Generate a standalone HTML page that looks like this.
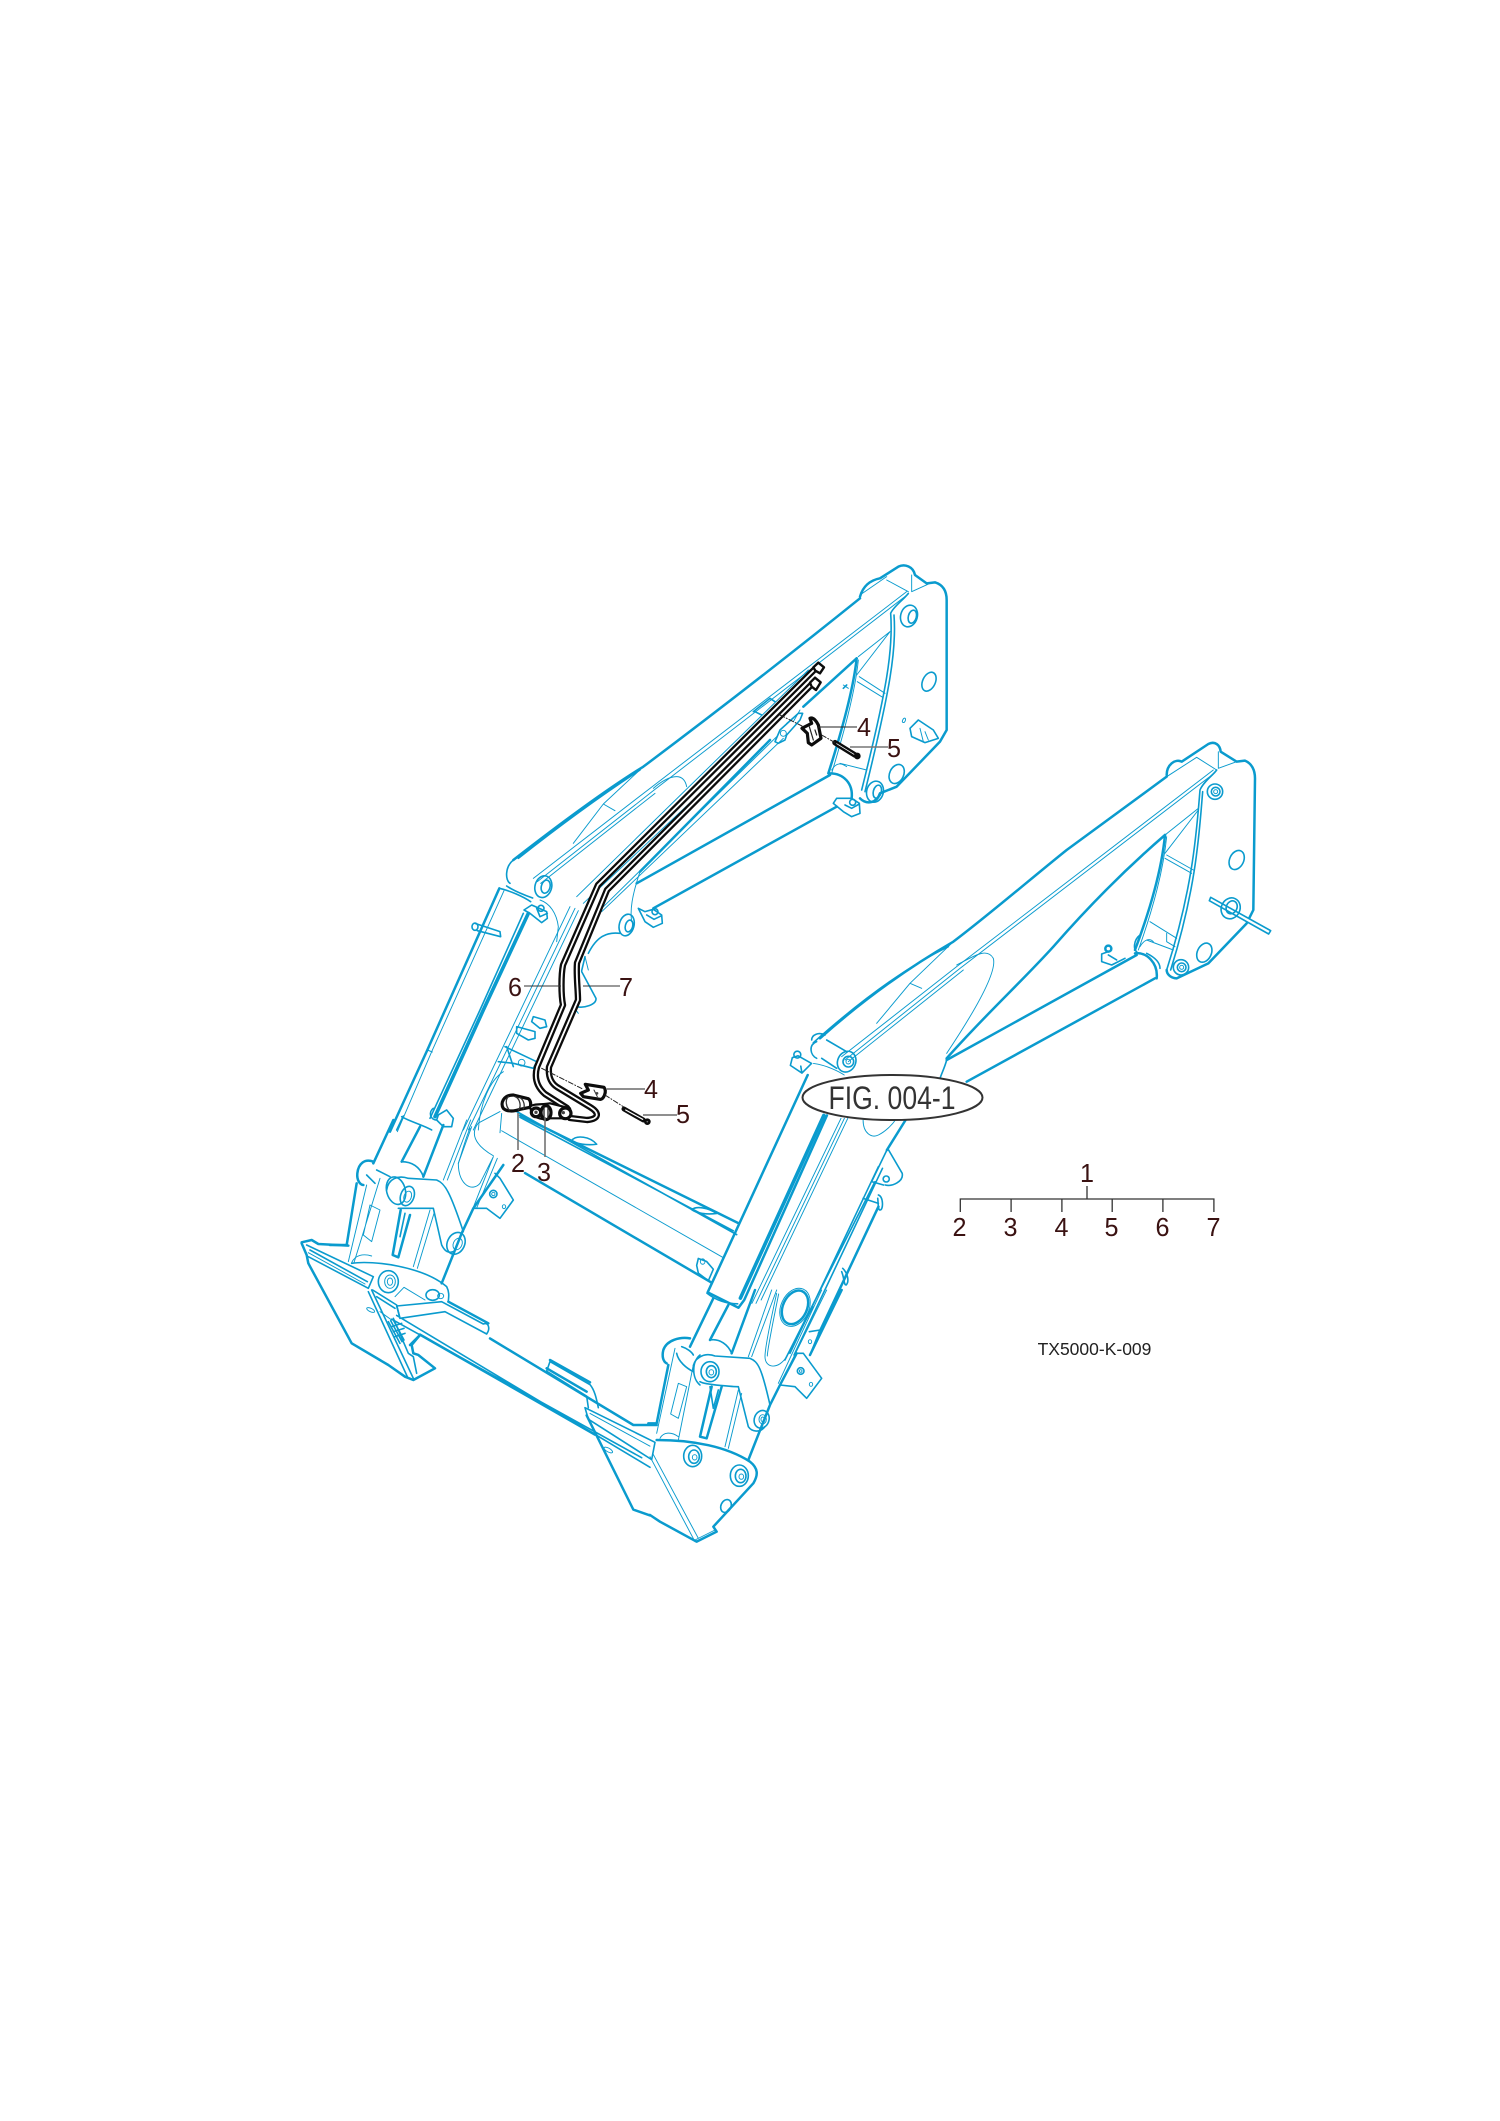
<!DOCTYPE html>
<html><head><meta charset="utf-8"><style>
html,body{margin:0;padding:0;background:#fff}
svg{display:block}
path,line,ellipse,circle{vector-effect:non-scaling-stroke}
.b *{fill:none;stroke:#0a9bce;stroke-linejoin:round;stroke-linecap:round}
.b .t{stroke-width:2.5}
.b .m{stroke-width:1.6}
.b .f{stroke-width:.95}
.b .x{stroke-width:3.6}
.b .w{fill:#fff}
.k *{stroke-linejoin:round;stroke-linecap:round}
text{font-family:"Liberation Sans",sans-serif;fill:#3a1212;font-size:26px;text-anchor:middle}
</style></head><body>
<svg xmlns="http://www.w3.org/2000/svg" width="1500" height="2121" viewBox="0 0 1500 2121">
<rect width="1500" height="2121" fill="#fff"/>

<g class="b">
<!-- Right arm -->
<g transform="translate(800,720) scale(.33333)">
<path class="t" d="M60,955C200,830 330,740 460,665C560,590 700,470 800,390L1100,170"/>
<path class="m" d="M40,968C150,870 300,750 445,680"/>
<path class="t" d="M1100,165C1100,135 1125,115 1145,125L1225,72C1245,62 1260,75 1262,95L1310,125L1335,122C1355,130 1365,150 1365,175L1360,570L1340,610L1225,730L1130,775C1110,775 1100,760 1100,750"/>
<path class="f" d="M125,1010L470,740L1240,150M135,1020L480,745L1245,158M145,1025L490,750"/>
<path class="f" d="M470,735C520,710 560,680 580,715C590,750 540,850 440,1000"/>
<path class="f" d="M460,665L330,790L230,910M330,790L365,805"/>
<path class="t" d="M1095,345C950,470 830,600 760,680C660,790 560,880 440,1015"/>
<path class="t" d="M1095,345C1085,450 1050,570 1005,690"/>
<path class="f" d="M1100,350C1090,450 1058,570 1015,690"/>
<path class="m" d="M1200,210C1190,330 1180,500 1100,750M1208,215C1198,335 1190,500 1112,750M1200,210C1210,185 1240,165 1250,150"/>
<path class="f" d="M1095,345L1195,265M1095,400L1195,270M1100,405L1180,450M1095,415L1175,460"/>
<path class="f" d="M1100,170L1190,112L1250,150M1255,95L1255,145L1310,125M1050,605L1130,655M1040,660L1120,690M1020,680C1035,655 1050,655 1060,665M1100,640L1100,665L1125,680"/>
<path class="t" d="M440,1020L1010,705M500,1085L1065,775"/>
<path class="m" d="M440,1020C435,1040 425,1060 420,1075"/>
<path class="t" d="M1005,700C1040,695 1075,730 1070,775"/>
<path class="m" d="M1020,645C1000,660 1000,690 1010,695M1040,700C1060,710 1080,725 1080,745"/>
<path class="m" d="M975,715L935,735L905,725L905,702L925,695M925,705L950,720"/>
<circle class="t" cx="925" cy="686" r="9"/>
<path class="m w" d="M1232,532L1412,632L1406,642L1228,542Z"/>
<ellipse class="m" cx="1292" cy="565" rx="28" ry="32" transform="rotate(25 1292 565)"/>
<ellipse class="m" cx="1295" cy="562" rx="16" ry="20" transform="rotate(25 1295 562)"/>
<ellipse class="m" cx="1310" cy="420" rx="21" ry="30" transform="rotate(25 1310 420)"/>
<ellipse class="m" cx="1213" cy="698" rx="21" ry="30" transform="rotate(25 1213 698)"/>
<circle class="m" cx="1245" cy="215" r="23"/><circle class="m" cx="1247" cy="215" r="13"/><circle class="f" cx="1247" cy="215" r="6"/>
<circle class="m" cx="1143" cy="742" r="23"/><circle class="m" cx="1145" cy="742" r="13"/><circle class="f" cx="1145" cy="742" r="6"/>
<path class="m" d="M50,965C25,975 30,1005 50,1015"/>
<path class="m" d="M35,960C35,945 55,935 75,945"/>
<path class="m" d="M80,960L140,995M65,1015L110,1045"/>
<ellipse class="m" cx="140" cy="1025" rx="27" ry="32" transform="rotate(25 140 1025)"/>
<circle class="m" cx="145" cy="1025" r="16"/><circle class="f" cx="145" cy="1025" r="7"/>
</g>

<!-- Left arm -->
<g transform="translate(450,550) scale(.33333)">
<path class="t" d="M190,930C280,860 450,730 580,650C700,560 950,370 1230,145"/>
<path class="m" d="M205,925C300,850 440,745 570,660"/>
<path class="t" d="M1230,140C1240,105 1265,90 1290,85L1345,50C1365,40 1390,50 1395,75L1430,100L1455,97C1480,105 1490,125 1490,150L1490,540L1470,575L1340,710L1290,730C1280,760 1250,765 1230,745"/>
<path class="m" d="M190,930C165,950 165,990 180,1000"/>
<path class="f" d="M250,985L600,715L1370,125M262,995L610,722L1375,132M272,1000L615,730"/>
<path class="f" d="M610,715C650,680 700,660 710,710"/>
<path class="f" d="M580,650L460,762L370,880M460,762L495,782"/>
<path class="f" d="M1310,80L1230,135M1310,90L1375,125M1385,75L1385,125L1440,100"/>
<path class="t" d="M1220,325L1060,470M960,570L570,965"/>
<path class="t" d="M1220,325C1210,420 1170,560 1135,670"/>
<path class="f" d="M1225,330C1215,430 1178,560 1145,670"/>
<path class="m" d="M1322,190C1330,300 1310,420 1235,720M1332,195C1340,300 1320,420 1245,725M1322,190C1330,170 1360,150 1375,130"/>
<path class="f" d="M1220,375L1320,245M1225,320L1320,245M1228,380L1305,430M1222,395L1298,442M1180,405L1195,415"/>
<path class="f" d="M1170,640L1250,660M1145,660C1160,635 1175,640 1190,650"/>
<path class="t" d="M560,1000L1140,675M610,1075L1160,770"/>
<path class="t" d="M1140,670C1180,670 1210,700 1205,745"/>
<path class="m" d="M1160,745L1150,760L1180,785L1205,800L1230,790L1228,760L1205,745Z M1185,765L1205,775L1228,762"/>
<circle class="m" cx="1208" cy="757" r="9"/>
<path class="m" d="M565,1075L585,1115L610,1132L637,1120L635,1095L610,1078L585,1085ZM590,1095L612,1108L635,1097"/>
<circle class="m" cx="615" cy="1085" r="9"/>
<ellipse class="m" cx="1437" cy="395" rx="19" ry="30" transform="rotate(25 1437 395)"/>
<ellipse class="m" cx="1340" cy="672" rx="21" ry="30" transform="rotate(25 1340 672)"/>
<ellipse class="m" cx="1377" cy="198" rx="25" ry="33" transform="rotate(15 1377 198)"/>
<ellipse class="m" cx="1387" cy="200" rx="12" ry="20" transform="rotate(15 1387 200)"/>
<ellipse class="m" cx="1275" cy="725" rx="25" ry="32" transform="rotate(15 1275 725)"/>
<ellipse class="m" cx="1282" cy="725" rx="12" ry="20" transform="rotate(15 1282 725)"/>
<ellipse class="m" cx="280" cy="1010" rx="25" ry="33" transform="rotate(15 280 1010)"/>
<ellipse class="m" cx="287" cy="1010" rx="13" ry="20" transform="rotate(15 287 1010)"/>
<ellipse class="m" cx="530" cy="1125" rx="22" ry="33" transform="rotate(15 530 1125)"/>
<ellipse class="m" cx="537" cy="1128" rx="11" ry="18" transform="rotate(15 537 1128)"/>
<path class="m" d="M1385,560L1380,535L1405,510L1450,540L1465,565L1425,578Z"/>
<path class="f" d="M1410,535L1420,575M1425,545L1435,570"/><ellipse class="f" cx="1362" cy="511" rx="4" ry="7" transform="rotate(25 1362 511)"/>
<path class="m" d="M910,485L960,445L975,455M915,485L935,495M1190,405L1180,415"/>
<path class="m" d="M975,575L990,540L1045,490L1058,490L1050,510L1010,555L1005,570L985,580Z"/>
<circle class="f" cx="1000" cy="550" r="9"/>
<path class="f" d="M1010,520L1045,490M1030,515L1050,480"/>
<path class="f" d="M380,1040L1075,360M400,1060L1090,410M445,1085L980,560M455,1085L1000,565"/>
<path class="f" d="M570,965C545,1040 540,1080 545,1115"/>
<path class="m" d="M415,1210C440,1160 470,1145 510,1150"/>
<path class="m" d="M395,1265L438,1345C440,1365 400,1375 380,1370"/>
<path class="m" d="M405,1220L395,1262"/>
</g>

<!-- Left cylinder -->
<g transform="translate(340,870) scale(.33333)">
<path class="t" d="M478,55L262,540L150,785"/>
<path class="f" d="M492,62L275,545L172,785M262,540L277,546"/>
<path class="m" d="M478,55C510,62 550,80 572,95M500,48C520,62 560,78 578,84"/>
<path class="x" d="M565,130L430,420L285,740"/>
<path class="m" d="M550,130L420,420L270,745"/>
<ellipse class="m" cx="405" cy="170" rx="9" ry="11"/>
<path class="m" d="M405,160L480,185L482,200L412,182"/>
<path class="m" d="M552,120L575,105L620,125L622,145L605,158L570,130ZM590,115L600,140L622,130"/>
<circle class="m" cx="603" cy="115" r="9"/>
<path class="f" d="M600,90C630,100 650,130 655,170L650,215"/>
<path class="f" d="M690,110L370,780M705,115L385,780M715,122L400,780"/>
<path class="m" d="M185,740C210,755 250,765 275,780M170,780L190,738"/>
<path class="m" d="M295,735L320,720L340,745L335,770L310,770L290,750ZM280,715C265,725 270,750 290,750"/>
<path class="m" d="M580,440L615,450L620,470L600,475L575,455ZM530,470L585,485L585,505L565,510L530,490ZM495,530L590,575L580,595L520,580L475,575M500,530L520,590"/>
<circle class="f" cx="545" cy="578" r="10"/>
<path class="f" d="M490,605C450,630 420,700 415,780"/>
<path class="f" d="M735,260L745,300M700,410L715,430"/>
</g>

<!-- lower-left mid / beam -->
<g transform="translate(280,1000) scale(.33333,.38462)">
<path class="t" d="M720,300L1375,580M735,450L1295,735"/>
<path class="m" d="M700,285L1370,610M720,305L1360,600"/>
<path class="f" d="M665,340L1330,670M665,295L660,345"/>
<path class="f" d="M660,290L595,320C572,345 580,375 640,405"/>
<path class="m" d="M875,365C890,350 930,355 950,375C920,378 890,375 875,365ZM1235,545C1250,535 1285,540 1310,555C1280,558 1250,555 1235,545Z"/>
<path class="m" d="M1250,690L1255,672L1280,680L1300,700L1285,730L1255,710Z"/>
<circle class="f" cx="1268" cy="680" r="7"/>
<path class="t" d="M420,870L945,1130"/>
<path class="t" d="M630,880L1060,1105L1130,1105"/>
<path class="m" d="M350,820L1110,1215M335,830L1085,1190"/>
<path class="m w" d="M915,1060L1125,1150L1115,1195L925,1090Z"/>
<path class="f" d="M930,1075L1110,1160"/>
<path class="t" d="M920,1080L1060,1325L1110,1340"/>
<ellipse class="f" cx="985" cy="1170" rx="14" ry="5" transform="rotate(25 985 1170)"/>
<path class="m" d="M810,940L930,1000C945,1015 950,1040 955,1060M800,965L920,1030L925,1060M810,940L800,965"/>
</g>

<!-- Left link -->
<g transform="translate(330,1120) scale(.33333)">
<path class="t" d="M130,125C105,115 85,130 82,160C80,180 90,195 100,195"/>
<path class="t" d="M80,190L50,375L0,375"/>
<path class="f" d="M110,195L55,425M150,175L72,428M120,255L150,270L125,365L100,345Z"/>
<path class="t" d="M190,0L130,130M270,20L215,125M340,15L280,170"/>
<path class="m" d="M215,125C245,125 270,140 280,170"/>
<path class="m" d="M140,150L180,170M110,165L135,190"/>
<path class="m" d="M170,210C175,175 205,165 235,175L320,180C345,190 360,215 400,335"/>
<path class="m" d="M205,265L310,265L335,375C345,395 355,400 370,395"/>
<ellipse class="m" cx="198" cy="212" rx="28" ry="42" transform="rotate(-15 198 212)"/>
<ellipse class="m" cx="232" cy="228" rx="20" ry="30" transform="rotate(20 232 228)"/>
<ellipse class="f" cx="233" cy="230" rx="11" ry="17" transform="rotate(20 233 230)"/>
<ellipse class="m" cx="378" cy="370" rx="26" ry="34" transform="rotate(25 378 370)"/>
<ellipse class="f" cx="383" cy="372" rx="13" ry="18" transform="rotate(25 383 372)"/>
<path class="t" d="M212,270L188,405L205,412L240,285"/>
<path class="m" d="M225,280L210,350"/>
<path class="f" d="M300,270L250,440M312,280L262,445"/>
<path class="t" d="M520,135L430,265L395,340L335,490"/>
<path class="m" d="M430,265L470,265L510,295L550,240L510,175L495,160"/>
<circle class="m" cx="490" cy="222" r="11"/><circle class="f" cx="490" cy="222" r="5"/>
<ellipse class="f" cx="522" cy="260" rx="5" ry="6"/>
<path class="f" d="M410,0L340,180M422,0L352,180M425,20L385,130C385,200 430,215 450,190L490,110M490,110L430,262M502,115L440,264"/>
<path class="f" d="M385,130C395,100 405,60 420,25"/>
</g>

<!-- lower-left attachment -->
<g transform="translate(280,1180) scale(.33333)">
<path class="t" d="M65,187L95,180L115,192L205,197"/>
<path class="t" d="M65,190L80,225L85,250L215,490L325,555L375,590L400,600L465,565L415,525L400,520L395,495L420,465"/>
<path class="m" d="M80,195L280,290L265,325L85,230M90,210L262,305"/>
<path class="f" d="M85,218L255,312"/>
<path class="m" d="M265,335L382,590M275,330L400,595"/>
<path class="m" d="M340,415L385,520L400,530L410,580"/>
<path class="m" d="M325,425L360,490M332,422L366,485M340,420L372,480M335,440L365,430M340,455L372,445M345,470L375,460"/>
<path class="f" d="M300,395L335,420"/>
<ellipse class="f" cx="272" cy="390" rx="13" ry="5" transform="rotate(25 272 390)"/>
<path class="m" d="M215,250C280,240 430,260 500,320C510,340 505,355 505,365"/>
<path class="f" d="M215,248C225,225 250,220 275,228"/>
<path class="t" d="M505,365L625,430"/>
<path class="m w" d="M350,378L485,365L610,432C625,425 632,445 620,462L495,395L360,415Z"/>
<path class="m" d="M278,330L350,375L360,415M290,350L345,385"/>
<path class="f" d="M345,350L372,322L435,360"/>
<ellipse class="m" cx="325" cy="305" rx="30" ry="33"/><ellipse class="f" cx="330" cy="305" rx="16" ry="20"/><ellipse class="f" cx="330" cy="305" rx="8" ry="11"/>
<ellipse class="m" cx="458" cy="345" rx="20" ry="16"/><ellipse class="f" cx="482" cy="348" rx="9" ry="8"/>
<path class="t" d="M420,465L390,495"/>
<path class="t" d="M810,540L930,607M800,565L920,635"/>
</g>

<!-- Right cylinder -->
<g transform="translate(700,1000) scale(.38462)">
<path class="t" d="M280,195L20,760L100,800L115,780L330,300"/>
<path class="x" d="M322,300L105,775"/>
<path class="m" d="M18,762C40,780 70,790 98,790"/>
<path class="m" d="M290,165L265,190L235,170L240,150L255,145L290,165M265,190L262,172"/>
<circle class="m" cx="253" cy="142" r="9"/>
<path class="f" d="M295,165C330,170 360,185 375,195"/>
</g>

<!-- Right arm side detail -->
<g transform="translate(756,1100) scale(.34,.33333)">
<path class="f" d="M270,55L15,600M260,55L0,610M250,55L-12,610"/>
<path class="f" d="M315,60C315,100 340,115 360,105C380,95 400,75 410,60"/>
<path class="t" d="M440,60L385,150"/>
<path class="m" d="M390,150L430,220C435,245 400,260 380,255M385,150L340,245L375,255M315,295L360,310"/>
<circle class="m" cx="383" cy="237" r="9"/>
<path class="t" d="M360,320L185,700"/>
<path class="m" d="M360,200L100,760M372,205L112,765M350,245L85,780"/>
<path class="m" d="M360,285C375,290 375,330 365,330C358,330 360,310 358,295M255,505C270,520 275,545 265,555C258,555 260,535 252,515"/>
</g>

<!-- Right link and bottom plate -->
<g transform="translate(650,1290) scale(.33333)">
<ellipse class="t" cx="435" cy="52" rx="36" ry="53" transform="rotate(25 435 52)"/>
<ellipse class="f" cx="435" cy="52" rx="42" ry="60" transform="rotate(25 435 52)"/>
<path class="f" d="M380,10C360,100 345,180 345,200C345,235 385,240 410,200L490,50"/>
<path class="f" d="M386,12C368,100 352,180 352,198"/>
<path class="f" d="M380,0L305,200M365,0L295,200M530,0L390,285M515,0L385,280"/>
<path class="t" d="M190,25L120,170M235,45L180,150M315,0L245,190"/>
<path class="m" d="M180,150C210,145 235,165 245,190"/>
<path class="t" d="M120,145C90,140 50,150 40,180C35,200 40,215 50,220"/>
<path class="t" d="M55,225L20,400L-5,400"/>
<path class="f" d="M75,175L20,430M130,225L85,450M85,280L110,290L85,385L62,372Z"/>
<path class="m" d="M130,240C125,205 165,185 195,198L300,205C325,215 335,235 360,345"/>
<path class="m" d="M150,275C165,285 260,290 265,290L295,410C305,425 330,430 345,410"/>
<path class="m" d="M150,195C125,215 125,265 150,285M80,190C85,215 110,235 130,245M95,170C110,175 125,185 130,195"/>
<ellipse class="m" cx="180" cy="245" rx="27" ry="30"/><ellipse class="m" cx="184" cy="245" rx="15" ry="18"/><ellipse class="f" cx="184" cy="247" rx="7" ry="8"/>
<ellipse class="m" cx="335" cy="388" rx="22" ry="27" transform="rotate(20 335 388)"/><ellipse class="f" cx="338" cy="388" rx="11" ry="14"/><ellipse class="f" cx="338" cy="388" rx="5" ry="7"/>
<path class="t" d="M185,290L150,440L170,445L215,290"/>
<path class="m" d="M180,290L190,355L205,300"/>
<path class="f" d="M265,300L225,470M275,310L235,475"/>
<path class="t" d="M575,0L480,195M360,345L390,285L440,190M360,345L295,510"/>
<path class="m" d="M390,285L435,290L470,325L515,265L460,190L440,190M478,125L510,120L480,195"/>
<circle class="m" cx="452" cy="243" r="10"/><circle class="f" cx="452" cy="243" r="4"/>
<ellipse class="f" cx="483" cy="283" rx="5" ry="6"/><ellipse class="f" cx="480" cy="155" rx="5" ry="6"/>
<path class="t" d="M20,450C130,450 230,470 300,515C325,535 325,555 310,580L190,710L200,725L140,755L30,695L0,675"/>
<path class="f" d="M0,500L135,755M8,490L145,745M135,750L195,720"/>
<path class="f" d="M30,445C40,425 65,425 85,440"/>
<ellipse class="m" cx="128" cy="498" rx="27" ry="32"/><ellipse class="m" cx="132" cy="500" rx="16" ry="20"/><ellipse class="f" cx="134" cy="502" rx="7" ry="8"/>
<ellipse class="m" cx="268" cy="557" rx="27" ry="32"/><ellipse class="m" cx="272" cy="558" rx="16" ry="20"/><ellipse class="f" cx="274" cy="560" rx="7" ry="8"/>
<ellipse class="m" cx="228" cy="648" rx="15" ry="20" transform="rotate(25 228 648)"/>
</g>
</g>

<!-- Black tubes & parts -->
<g class="k">
<g fill="none" stroke="#0c0c0c" stroke-width="6.4">
<path d="M816,668L598,885L563,965C561,975 561,995 563,1005L537,1067C534,1078 537,1087 545,1094L567,1108"/>
<path d="M811,685L607,890L577,963C576,975 578,990 578,1000L549,1067C548,1077 551,1083 557,1087L590,1107C600,1113 599,1119 587,1120L570,1118"/>
</g>
<g fill="none" stroke="#fff" stroke-width="1.8">
<path d="M816,668L598,885L563,965C561,975 561,995 563,1005L537,1067C534,1078 537,1087 545,1094L567,1108"/>
<path d="M811,685L607,890L577,963C576,975 578,990 578,1000L549,1067C548,1077 551,1083 557,1087L590,1107C600,1113 599,1119 587,1120L570,1118"/>
</g>

<!-- tube ends and upper clip -->
<g transform="translate(450,550) scale(.33333)">
<path d="M1090,352L1105,338L1122,352L1110,370L1096,362Z" fill="#fff" stroke="#0c0c0c" stroke-width="2.4"/>
<path d="M1080,398L1095,383L1112,397L1098,420L1085,410Z" fill="#fff" stroke="#0c0c0c" stroke-width="2.4"/>
<path d="M1080,505C1090,500 1100,515 1105,525L1113,565L1085,585L1075,578L1072,550L1056,535L1075,525L1085,520Z" fill="#fff" stroke="#0c0c0c" stroke-width="3.2"/>
<path d="M1078,530L1090,570M1095,540L1100,555" stroke="#222" stroke-width="1.2" fill="none"/>
<path d="M1155,578L1215,615" stroke="#0c0c0c" stroke-width="5.5" fill="none"/>
<path d="M1160,581L1212,613" stroke="#fff" stroke-width=".8" fill="none"/>
<circle cx="1222" cy="618" r="10" fill="#0c0c0c"/>
<path d="M990,495L1056,528M1115,555L1155,578" stroke="#222" stroke-width="1" stroke-dasharray="5 2 1 2" fill="none"/>
</g>

<!-- lower black parts -->
<g transform="translate(470,1050) scale(.33333)">
<path d="M130,135C100,135 90,160 100,175C110,185 130,185 150,178L180,172C185,160 180,145 170,145Z" fill="#fff" stroke="#0c0c0c" stroke-width="3.2"/>
<path d="M135,140C150,145 155,170 145,180M150,143C163,150 165,170 160,176M115,140C105,150 108,170 118,180" fill="none" stroke="#333" stroke-width="1.3"/>
<path d="M180,170C190,160 215,165 240,160L300,175C305,190 295,205 285,205L240,205C225,212 195,205 185,190Z" fill="#fff" stroke="#0c0c0c" stroke-width="2.2"/>
<ellipse cx="198" cy="187" rx="14" ry="13" fill="#fff" stroke="#0c0c0c" stroke-width="3.2"/>
<circle cx="198" cy="187" r="5" fill="#444"/>
<ellipse cx="228" cy="188" rx="15" ry="21" fill="#fff" stroke="#0c0c0c" stroke-width="3.2"/>
<path d="M222,172L222,205M234,172L234,205" stroke="#222" stroke-width="1.3" fill="none"/>
<ellipse cx="286" cy="190" rx="17" ry="16" fill="#fff" stroke="#0c0c0c" stroke-width="3.2"/>
<circle cx="280" cy="188" r="5" fill="#444"/>
<path d="M346,103L402,112C412,125 400,150 390,148L340,140L332,130L355,120Z" fill="#fff" stroke="#0c0c0c" stroke-width="3.2"/>
<path d="M372,120L382,140" stroke="#333" stroke-width="1"/>
<circle cx="381" cy="130" r="4" fill="#444"/>
<path d="M462,177L520,210" stroke="#0c0c0c" stroke-width="5" fill="none"/>
<path d="M467,180L518,208" stroke="#fff" stroke-width="1.2" fill="none"/>
<circle cx="532" cy="215" r="10" fill="#0c0c0c"/><circle cx="532" cy="215" r="2.5" fill="#777"/>
<path d="M215,55L340,118M405,135L460,170" stroke="#222" stroke-width="1" stroke-dasharray="5 2 1 2" fill="none"/>
</g>
</g>

<!-- leaders -->
<g fill="none" stroke-width="1.1">
<path d="M607,1089H645M643,1115H677" stroke="#6a6a6a" stroke-width="1.5"/>
<path d="M518,1113V1150M545,1117V1157" stroke="#6a6a6a" stroke-width="1.5"/>
<path d="M818,727H857" stroke="#222"/>
<path d="M850,747H888" stroke="#777" stroke-width="1.5"/>
<path d="M524,986H561M583,986H620" stroke="#333"/>
<path d="M960.3,1212V1199H1213.9V1212M1011.1,1199V1212M1061.9,1199V1212M1112.2,1199V1212M1162.9,1199V1212M1087,1186V1199" stroke="#333" stroke-width="1.3"/>
</g>

<!-- labels -->
<g>
<text x="864" y="736" textLength="14" lengthAdjust="spacingAndGlyphs">4</text>
<text x="894" y="757" textLength="14" lengthAdjust="spacingAndGlyphs">5</text>
<text x="515" y="996" textLength="14" lengthAdjust="spacingAndGlyphs">6</text>
<text x="626" y="996" textLength="14" lengthAdjust="spacingAndGlyphs">7</text>
<text x="651" y="1098" textLength="14" lengthAdjust="spacingAndGlyphs">4</text>
<text x="683" y="1123" textLength="14" lengthAdjust="spacingAndGlyphs">5</text>
<text x="518" y="1172" textLength="14" lengthAdjust="spacingAndGlyphs">2</text>
<text x="544" y="1181" textLength="14" lengthAdjust="spacingAndGlyphs">3</text>
<text x="1087" y="1182" textLength="14" lengthAdjust="spacingAndGlyphs">1</text>
<text x="959.5" y="1236" textLength="14" lengthAdjust="spacingAndGlyphs">2</text>
<text x="1010.5" y="1236" textLength="14" lengthAdjust="spacingAndGlyphs">3</text>
<text x="1061.5" y="1236" textLength="14" lengthAdjust="spacingAndGlyphs">4</text>
<text x="1111.5" y="1236" textLength="14" lengthAdjust="spacingAndGlyphs">5</text>
<text x="1162.5" y="1236" textLength="14" lengthAdjust="spacingAndGlyphs">6</text>
<text x="1213.5" y="1236" textLength="14" lengthAdjust="spacingAndGlyphs">7</text>
</g>
<text x="1094.5" y="1355" style="font-size:17.5px;fill:#222">TX5000-K-009</text>

<ellipse cx="892.5" cy="1097.5" rx="90" ry="22.5" fill="#fff" stroke="#333" stroke-width="2"/>
<text x="892" y="1109" textLength="127" lengthAdjust="spacingAndGlyphs" style="font-size:32px;fill:#333">FIG. 004-1</text>
</svg>
</body></html>
